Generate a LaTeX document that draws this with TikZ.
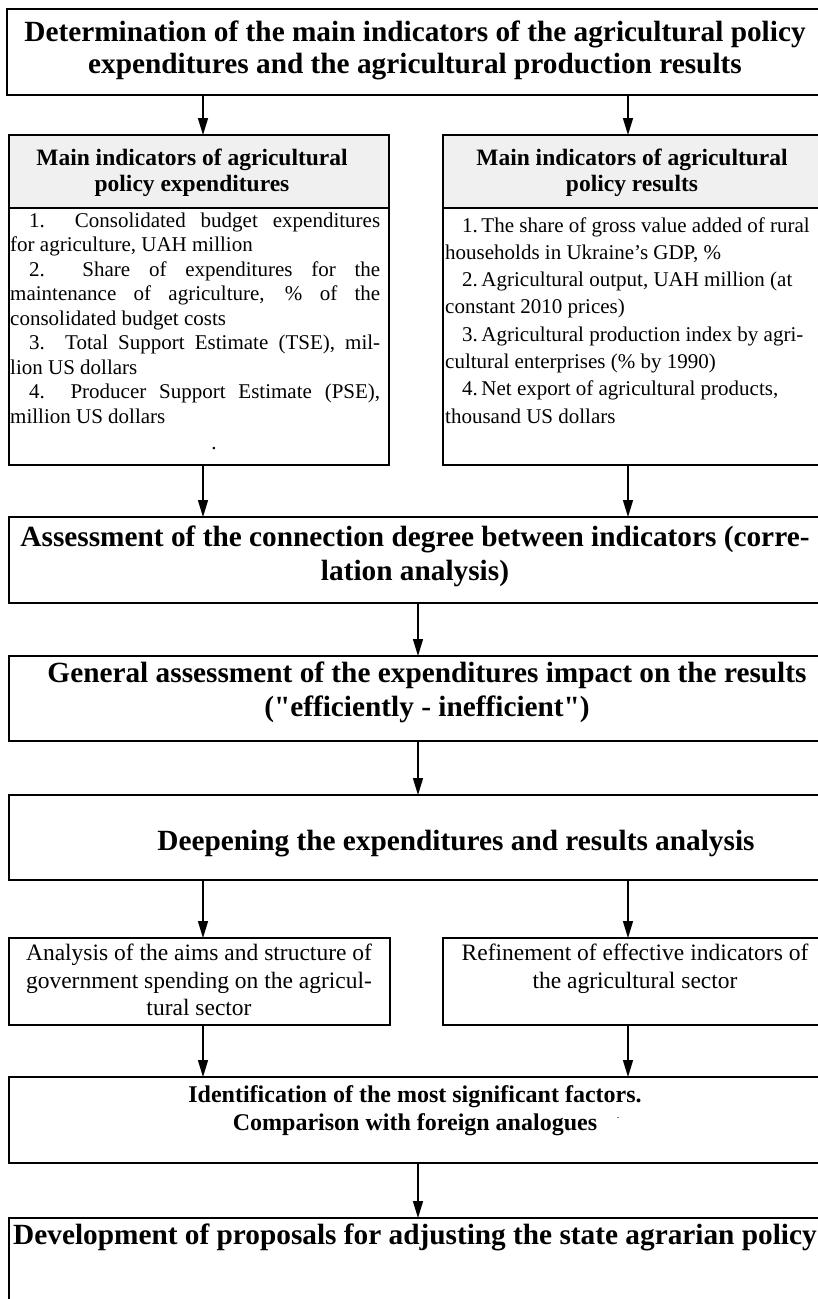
\documentclass[tikz,border=0pt]{standalone}
\usepackage{fontspec}
\setmainfont{Liberation Serif}
\usetikzlibrary{arrows.meta}
\definecolor{hdgray}{HTML}{F0F0F0}
\begin{document}
\begin{tikzpicture}[x=1pt,y=-1pt,
  box/.style={draw=black, line width=1.6pt, inner sep=0pt, outer sep=0pt, anchor=north west},
  thickbox/.style={box, line width=2.1pt},
  arr/.style={line width=1.4pt, -{Triangle[length=17pt,width=10pt]}},
  big/.style={font=\bfseries\fontsize{29.3}{32}\selectfont, inner sep=0pt, anchor=base},
  hd/.style={font=\bfseries\fontsize{23.5}{26}\selectfont, inner sep=0pt, anchor=base},
  bd/.style={font=\fontsize{21}{24.5}\selectfont, inner sep=0pt, anchor=base west},
  sm/.style={font=\fontsize{23.5}{27}\selectfont, inner sep=0pt, anchor=base},
  idt/.style={font=\bfseries\fontsize{24}{28}\selectfont, inner sep=0pt, anchor=base},
  dotmark/.style={font=\fontsize{10}{12}\selectfont, inner sep=0pt, anchor=base, text height=1.2pt, text depth=0pt}
]
\useasboundingbox (0,0) rectangle (818,1299);
\clip (0,0) rectangle (818,1299);

% column coordinates
\coordinate (cL) at (203,0);
\coordinate (cR) at (628,0);
\coordinate (cC) at (418,0);

% boxes
\node[thickbox, minimum width=815pt, minimum height=86pt] (top) at (7,9) {};
\node[box, fill=hdgray, minimum width=380pt, minimum height=73pt] (ghL) at (9,135) {};
\node[box, minimum width=380pt, minimum height=257pt] (gbL) at (9,208) {};
\node[box, fill=hdgray, minimum width=379pt, minimum height=73pt] (ghR) at (443,135) {};
\node[box, minimum width=379pt, minimum height=257pt] (gbR) at (443,208) {};
\node[box, minimum width=813pt, minimum height=86pt] (assess) at (9,517) {};
\node[box, minimum width=813pt, minimum height=85pt] (general) at (9,656) {};
\node[thickbox, minimum width=813pt, minimum height=85pt] (deep) at (9,795) {};
\node[box, minimum width=381pt, minimum height=87pt] (smL) at (9,938) {};
\node[box, minimum width=379pt, minimum height=87pt] (smR) at (443,938) {};
\node[box, minimum width=813pt, minimum height=86pt] (ident) at (9,1077) {};
\node[box, minimum width=813pt, minimum height=110pt] (dev) at (9,1218) {};

% title
\node[big] (t1) at (415,41) {Determination of the main indicators of the agricultural policy};
\node[big] (t2) at (415,73) {expenditures and the agricultural production results};

% headers
\node[hd] (hl1) at (192,165) {Main indicators of agricultural};
\node[hd] (hl2) at (192,191) {policy expenditures};
\node[hd] (hr1) at (632,165) {Main indicators of agricultural};
\node[hd] (hr2) at (632,191) {policy results};

% left body (justified)
\node[bd] (l1) at (10,227) {\makebox[370pt][s]{\hspace*{19pt}1.\ \ Consolidated budget expenditures}};
\node[bd] (l2) at (10,251.5) {for agriculture, UAH million};
\node[bd] (l3) at (10,276) {\makebox[370pt][s]{\hspace*{19pt}2.\ \ Share of expenditures for the}};
\node[bd] (l4) at (10,300.5) {\makebox[370pt][s]{maintenance of agriculture, \% of the}};
\node[bd] (l5) at (10,325) {consolidated budget costs};
\node[bd] (l6) at (10,349.5) {\makebox[370pt][s]{\hspace*{19pt}3.\ \ Total Support Estimate (TSE), mil-}};
\node[bd] (l7) at (10,374) {lion US dollars};
\node[bd] (l8) at (10,398.5) {\makebox[370pt][s]{\hspace*{19pt}4.\ \ Producer Support Estimate (PSE),}};
\node[bd] (l9) at (10,423) {million US dollars};
\node[bd, anchor=base] (ldot) at (214,449) {.};

% right body
\node[bd] (r1) at (445,232) {\hspace*{17pt}1.\,The share of gross value added of rural};
\node[bd] (r2) at (445,259.3) {households in Ukraine’s GDP, \%};
\node[bd] (r3) at (445,286.6) {\hspace*{17pt}2.\,Agricultural output, UAH million (at};
\node[bd] (r4) at (445,313.9) {constant 2010 prices)};
\node[bd] (r5) at (445,341.2) {\hspace*{17pt}3.\,Agricultural production index by agri-};
\node[bd] (r6) at (445,368.5) {cultural enterprises (\% by 1990)};
\node[bd] (r7) at (445,395.8) {\hspace*{17pt}4.\,Net export of agricultural products,};
\node[bd] (r8) at (445,423.1) {thousand US dollars};

% assessment
\node[big] (a1) at (415,546) {Assessment of the connection degree between indicators (corre-};
\node[big] (a2) at (415,580) {lation analysis)};

% general
\node[big] (g1) at (427,682) {General assessment of the expenditures impact on the results};
\node[big] (g2) at (427,716) {(\textquotedbl efficiently - inefficient\textquotedbl)};

% deepening
\node[big] (d1) at (456,850) {Deepening the expenditures and results analysis};

% small boxes
\node[sm] (s1) at (199,960) {Analysis of the aims and structure of};
\node[sm] (s2) at (199,988) {government spending on the agricul-};
\node[sm] (s3) at (199,1015) {tural sector};
\node[sm] (s4) at (635,960) {Refinement of effective indicators of};
\node[sm] (s5) at (635,988) {the agricultural sector};

% identification
\node[idt] (i1) at (415,1102) {Identification of the most significant factors.};
\node[idt] (i2) at (415,1130) {Comparison with foreign analogues};
\node[dotmark] (idot) at (618,1118) {.};

% development
\node[big] (v1) at (415,1244) {Development of proposals for adjusting the state agrarian policy};

% connectors
\draw[arr] (top.south -| cL) -- (ghL.north -| cL);
\draw[arr] (top.south -| cR) -- (ghR.north -| cR);
\draw[arr] (gbL.south -| cL) -- (assess.north -| cL);
\draw[arr] (gbR.south -| cR) -- (assess.north -| cR);
\draw[arr] (assess.south -| cC) -- (general.north -| cC);
\draw[arr] (general.south -| cC) -- (deep.north -| cC);
\draw[arr] (deep.south -| cL) -- (smL.north -| cL);
\draw[arr] (deep.south -| cR) -- (smR.north -| cR);
\draw[arr] (smL.south -| cL) -- (ident.north -| cL);
\draw[arr] (smR.south -| cR) -- (ident.north -| cR);
\draw[arr] (ident.south -| cC) -- (dev.north -| cC);
\end{tikzpicture}
\end{document}
